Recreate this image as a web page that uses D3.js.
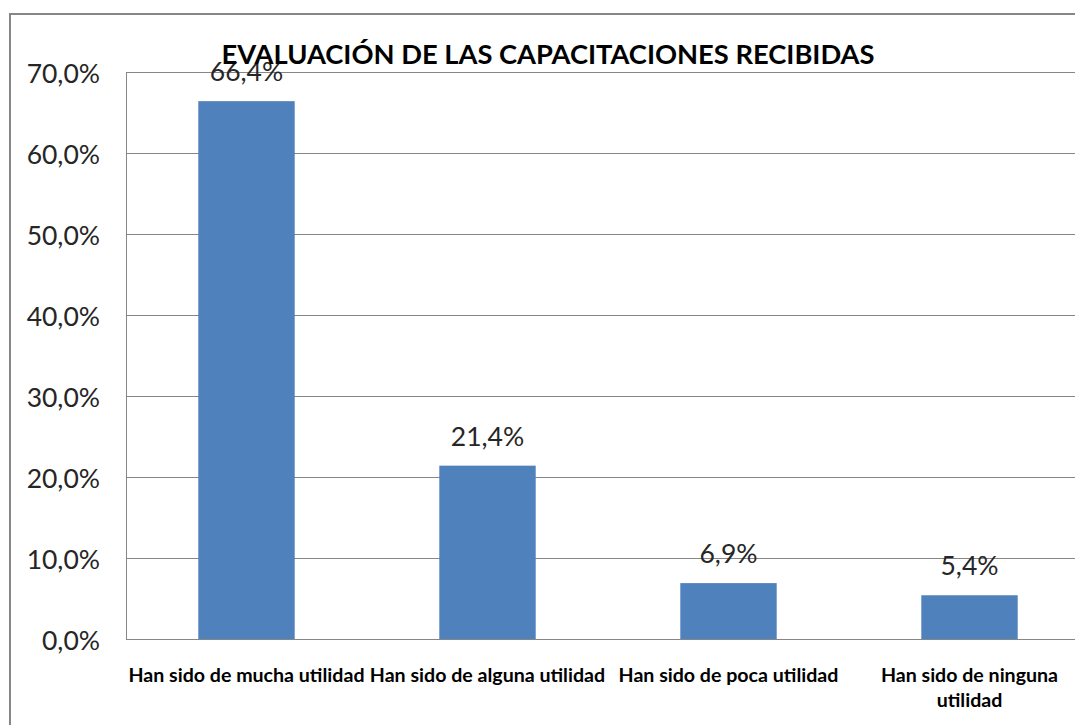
<!DOCTYPE html>
<html>
<head>
<meta charset="utf-8">
<script src="https://cdn.jsdelivr.net/npm/d3@7"></script>
<style>
  body { margin: 0; background: #fff; }
  svg { display: block; }
</style>
</head>
<body>
<svg id="chart"></svg>
<script>
// data
const title = "EVALUACIÓN DE LAS CAPACITACIONES RECIBIDAS";
const categories = [
    "Han sido de mucha utilidad",
    "Han sido de alguna utilidad",
    "Han sido de poca utilidad",
    "Han sido de ninguna utilidad"
];
const values = [66.4, 21.4, 6.9, 5.4];
const yTicks = [0, 10, 20, 30, 40, 50, 60, 70];

const width = 1075;
const height = 725;
const margin = { left: 126, right: -15, top: 72, bottom: 86 };
const barColor = "#4F81BD";
const gridColor = "#868686";
const font = "Lato, 'Open Sans', sans-serif";

const svg = d3.select("#chart")
    .attr("width", width)
    .attr("height", height);

// outer chart frame (runs off the right/bottom of the picture)
svg.append("rect")
    .attr("x", 10)
    .attr("y", 14)
    .attr("width", 1100)
    .attr("height", 800)
    .attr("fill", "#fff")
    .attr("stroke", gridColor)
    .attr("stroke-width", 2);

const x = d3.scaleBand()
    .domain(categories)
    .range([margin.left, width - margin.right])
    .paddingInner(0.6)
    .paddingOuter(0.3);

const y = d3.scaleLinear()
    .domain([0, 70])
    .range([height - margin.bottom, margin.top]);

const fmt = v => d3.format(".1f")(v).replace(".", ",") + "%";

// gridlines
svg.append("g")
    .selectAll("line")
    .data(yTicks)
    .enter()
    .append("line")
    .attr("x1", margin.left)
    .attr("x2", width - margin.right)
    .attr("y1", d => Math.round(y(d)) + 0.5)
    .attr("y2", d => Math.round(y(d)) + 0.5)
    .attr("stroke", gridColor)
    .attr("stroke-width", 1);

// y axis line
svg.append("line")
    .attr("x1", margin.left + 0.5)
    .attr("x2", margin.left + 0.5)
    .attr("y1", y(70))
    .attr("y2", y(0))
    .attr("stroke", gridColor);

// y tick labels
svg.append("g")
    .selectAll("text")
    .data(yTicks)
    .enter()
    .append("text")
    .attr("x", 100)
    .attr("y", d => y(d) + 1)
    .attr("text-anchor", "end")
    .attr("dominant-baseline", "central")
    .attr("font-family", font)
    .attr("font-size", "26.5px")
    .attr("fill", "#262626")
    .text(d => fmt(d));

const data = categories.map((c, i) => ({ cat: c, value: values[i] }));

// bars
svg.append("g")
    .selectAll("rect")
    .data(data)
    .enter()
    .append("rect")
    .attr("x", d => x(d.cat))
    .attr("y", d => y(d.value))
    .attr("width", x.bandwidth())
    .attr("height", d => y(0) - y(d.value))
    .attr("fill", barColor);

// value labels
svg.append("g")
    .selectAll("text")
    .data(data)
    .enter()
    .append("text")
    .attr("x", d => x(d.cat) + x.bandwidth() / 2)
    .attr("y", d => y(d.value) - 20)
    .attr("text-anchor", "middle")
    .attr("font-family", font)
    .attr("font-size", "26.5px")
    .attr("fill", "#262626")
    .text(d => fmt(d.value));

// category labels, wrapped like the original
const maxLabel = 244;
const catText = svg.append("g")
    .selectAll("text")
    .data(categories)
    .enter()
    .append("text")
    .attr("x", d => x(d) + x.bandwidth() / 2)
    .attr("y", 682)
    .attr("text-anchor", "middle")
    .attr("font-family", font)
    .attr("font-weight", "bold")
    .attr("font-size", "19.6px")
    .attr("fill", "#000");

catText.each(function(d) {
    const t = d3.select(this);
    const cx = t.attr("x");
    const words = d.split(" ");
    let line = [];
    let tspan = t.append("tspan").attr("x", cx);
    words.forEach(w => {
        line.push(w);
        tspan.text(line.join(" "));
        if (tspan.node().getComputedTextLength() > maxLabel && line.length > 1) {
            line.pop();
            tspan.text(line.join(" "));
            line = [w];
            tspan = t.append("tspan").attr("x", cx).attr("dy", 25).text(w);
        }
    });
});

// title
svg.append("text")
    .attr("x", 548)
    .attr("y", 64)
    .attr("text-anchor", "middle")
    .attr("font-family", font)
    .attr("font-weight", "bold")
    .attr("font-size", "27.3px")
    .attr("fill", "#000")
    .text(title);
</script>
</body>
</html>
